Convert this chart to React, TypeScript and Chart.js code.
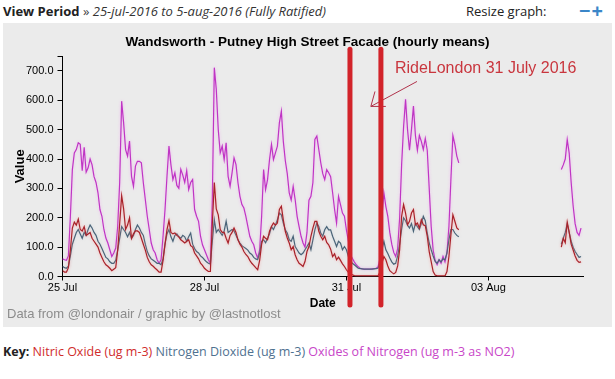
import React, { useEffect, useRef } from 'react';
import { Chart, registerables } from 'chart.js';

Chart.register(...registerables);

// ---- Data (hourly means, hour 0 = 25 Jul 2016 00:00) ----
const TITLE = 'Wandsworth - Putney High Street Facade (hourly means)';
const X_TICK_HOURS = [0, 72, 144, 216];
const X_TICK_LABELS = ['25 Jul', '28 Jul', '31 Jul', '03 Aug'];
const Y_TICK_VALUES = [0, 100, 200, 300, 400, 500, 600, 700, 750];
const X_MAX_HOUR = 264;
const Y_MAX = 750;

// first block of readings: 25 Jul 00:00 -> 2 Aug 09:00
const FIRST_BLOCK_START = 0;
// second block of readings: 4 Aug 13:00 -> 4 Aug 23:00
const SECOND_BLOCK_START = 253;

const NOX_FIRST = [
  60, 57, 55, 70, 205, 364, 421, 432, 455, 450,
  360, 440, 355, 370, 400, 380, 340, 320, 285, 228,
  205, 160, 131, 114, 91, 68, 80, 97, 170, 320,
  597, 523, 432, 410, 461, 341, 307, 376, 392, 392,
  387, 319, 262, 205, 160, 114, 91, 80, 57, 45,
  57, 137, 228, 341, 444, 380, 330, 353, 310, 300,
  365, 345, 320, 360, 296, 320, 330, 228, 205, 188,
  137, 108, 91, 74, 57, 45, 262, 711, 637, 500,
  421, 444, 398, 455, 341, 307, 353, 404, 381, 319,
  273, 245, 233, 205, 171, 137, 120, 108, 80, 63,
  91, 205, 364, 296, 330, 398, 450, 398, 421, 444,
  523, 563, 460, 395, 350, 285, 260, 307, 262, 205,
  170, 137, 114, 100, 150, 260, 273, 319, 467, 478,
  432, 387, 350, 330, 364, 353, 340, 285, 228, 182,
  273, 245, 216, 205, 159, 120, 75, 62, 50, 40,
  33, 28, 26, 25, 25, 25, 25, 26, 27, 28,
  32, 60, 200, 285, 239, 205, 150, 110, 82, 68,
  95, 200, 380, 510, 603, 500, 430, 500, 580, 480,
  430, 480, 460, 432, 470, 430, 300, 170, 90, 55,
  40, 57, 45, 68, 50, 80, 170, 330, 480, 450,
  410, 387,
];
const NOX_SECOND = [364, 380, 400, 466, 420, 320, 240, 180, 150, 140, 165];

const NO2_FIRST = [
  35, 30, 28, 35, 70, 110, 130, 150, 160, 145,
  130, 150, 140, 160, 175, 165, 150, 140, 120, 110,
  95, 80, 65, 60, 50, 45, 45, 55, 90, 130,
  170, 160, 150, 135, 150, 130, 140, 160, 175, 165,
  150, 140, 110, 85, 70, 60, 55, 50, 45, 45,
  40, 60, 110, 145, 160, 135, 120, 140, 145, 135,
  130, 140, 135, 120, 135, 148, 110, 95, 85, 80,
  70, 65, 57, 50, 45, 42, 120, 193, 150, 160,
  150, 140, 155, 188, 150, 155, 160, 155, 140, 125,
  114, 105, 100, 95, 90, 80, 75, 65, 60, 57,
  80, 120, 125, 115, 130, 145, 170, 160, 175, 193,
  216, 210, 182, 159, 148, 125, 120, 137, 102, 91,
  80, 74, 80, 91, 102, 114, 91, 125, 159, 182,
  170, 148, 137, 159, 170, 159, 159, 137, 120, 102,
  120, 114, 91, 102, 91, 68, 57, 45, 40, 34,
  28, 27, 26, 25, 25, 25, 25, 25, 26, 27,
  28, 45, 90, 120, 91, 78, 63, 50, 42, 45,
  70, 110, 160, 200, 190, 175, 165, 180, 154, 180,
  170, 160, 180, 205, 190, 148, 114, 91, 70, 51,
  45, 57, 50, 60, 57, 80, 125, 160, 160, 148,
  140, 135,
];
const NO2_SECOND = [110, 130, 150, 180, 150, 120, 100, 85, 75, 65, 68];

const NO_FIRST = [
  20, 15, 15, 30, 90, 165, 185, 175, 195, 160,
  155, 170, 140, 145, 150, 130, 120, 110, 100, 80,
  65, 50, 40, 35, 28, 20, 25, 30, 90, 180,
  275, 230, 160, 175, 200, 130, 145, 155, 155, 150,
  130, 110, 90, 65, 50, 40, 35, 28, 22, 15,
  15, 55, 110, 160, 190, 150, 145, 148, 140, 135,
  125, 120, 114, 120, 125, 105, 100, 80, 70, 60,
  45, 38, 28, 22, 17, 17, 180, 320, 230, 210,
  160, 150, 150, 130, 114, 140, 150, 165, 150, 125,
  110, 100, 85, 75, 68, 55, 45, 38, 30, 23,
  55, 110, 137, 130, 125, 154, 170, 182, 175, 182,
  228, 239, 193, 154, 131, 114, 91, 102, 74, 57,
  45, 40, 34, 51, 85, 102, 137, 165, 188, 188,
  154, 137, 125, 137, 116, 108, 93, 68, 77, 57,
  66, 55, 43, 34, 23, 14, 9, 6, 3, 2,
  2, 2, 2, 2, 2, 2, 2, 2, 2, 2,
  2, 15, 45, 68, 57, 36, 20, 14, 9, 14,
  36, 91, 205, 245, 216, 176, 188, 216, 228, 176,
  182, 165, 193, 176, 173, 137, 85, 51, 17, 5,
  2, 2, 2, 2, 2, 17, 68, 142, 210, 188,
  165, 159,
];
const NO_SECOND = [100, 130, 115, 185, 150, 110, 90, 70, 55, 48, 50];

// RideLondon annotation (hours since 25 Jul 00:00, values in ug m-3)
const RIDE_MARKER_HOURS = [145.8, 161.5];
const RIDE_LABEL = 'RideLondon 31 July 2016';
const RIDE_LABEL_AT = { hour: 168.6, value: 707 };
const ARROW_TAIL = { hour: 179.8, value: 664 };
const ARROW_TIP = { hour: 156.4, value: 579 };
const ARROW_BARBS = [
  { hour: 158.5, value: 630 },
  { hour: 164.0, value: 579 },
];

const SERIES_COLORS = ['#a8222a', '#4a6478', '#bf35c4'];
const SERIES_GLOW = ['rgba(255,120,120,0.55)', 'rgba(150,170,190,0.35)', 'rgba(245,140,245,0.6)'];

const FONT = '"Liberation Sans", Arial, sans-serif';
const PAGE_FONT = '"Open Sans", "Noto Sans", sans-serif';

function toPoints(first: number[], second: number[]) {
  const pts: { x: number; y: number | null }[] = first.map((v, i) => ({ x: FIRST_BLOCK_START + i, y: v }));
  pts.push({ x: FIRST_BLOCK_START + first.length, y: null });
  second.forEach((v, i) => pts.push({ x: SECOND_BLOCK_START + i, y: v }));
  return pts;
}

const glowPlugin = {
  id: 'lineGlow',
  beforeDatasetDraw(chart: any, args: any) {
    const ctx = chart.ctx;
    ctx.save();
    ctx.shadowColor = SERIES_GLOW[args.index] || 'transparent';
    ctx.shadowBlur = 3;
    ctx.shadowOffsetX = 0;
    ctx.shadowOffsetY = 0;
  },
  afterDatasetDraw(chart: any) {
    chart.ctx.restore();
  },
};

const rideLondonPlugin = {
  id: 'rideLondon',
  afterDraw(chart: any) {
    const { ctx, chartArea, scales } = chart;
    const x = scales.x;
    const y = scales.y;
    const px = (p: { hour: number; value: number }) => [x.getPixelForValue(p.hour), y.getPixelForValue(p.value)];
    ctx.save();
    // arrow
    ctx.strokeStyle = '#b0324a';
    ctx.lineWidth = 1;
    const [tx, ty] = px(ARROW_TIP);
    const [sx, sy] = px(ARROW_TAIL);
    ctx.beginPath();
    ctx.moveTo(sx, sy);
    ctx.lineTo(tx, ty);
    ARROW_BARBS.forEach((b) => {
      const [bx, by] = px(b);
      ctx.moveTo(tx, ty);
      ctx.lineTo(bx, by);
    });
    ctx.stroke();
    // bars
    ctx.strokeStyle = '#d2232a';
    ctx.lineWidth = 5;
    ctx.lineCap = 'round';
    RIDE_MARKER_HOURS.forEach((h) => {
      const bx = x.getPixelForValue(h);
      ctx.beginPath();
      ctx.moveTo(bx, chartArea.top - 7);
      ctx.lineTo(bx, chartArea.bottom + 28.5);
      ctx.stroke();
    });
    // label
    const [lx, ly] = px(RIDE_LABEL_AT);
    ctx.fillStyle = '#c9363e';
    ctx.font = `16px ${FONT}`;
    ctx.textBaseline = 'middle';
    ctx.textAlign = 'left';
    ctx.fillText(RIDE_LABEL, lx, ly);
    ctx.restore();
  },
};

export default function App() {
  const ref = useRef<HTMLCanvasElement>(null);

  useEffect(() => {
    const canvas = ref.current;
    if (!canvas) return;
    const line = (label: string, color: string, data: any[]) => ({
      label,
      data,
      borderColor: color,
      backgroundColor: color,
      borderWidth: 1.2,
      pointRadius: 0,
      tension: 0,
      spanGaps: false,
      yAxisID: 'y',
    });
    const chart = new Chart(canvas, {
      type: 'line',
      data: {
        datasets: [
          line('Nitric Oxide (ug m-3)', SERIES_COLORS[0], toPoints(NO_FIRST, NO_SECOND)),
          line('Nitrogen Dioxide (ug m-3)', SERIES_COLORS[1], toPoints(NO2_FIRST, NO2_SECOND)),
          line('Oxides of Nitrogen (ug m-3 as NO2)', SERIES_COLORS[2], toPoints(NOX_FIRST, NOX_SECOND)),
        ],
      },
      options: {
        responsive: false,
        animation: false,
        devicePixelRatio: 1,
        layout: { padding: { left: 0, right: 0, top: 0, bottom: 10 } },
        plugins: {
          legend: { display: false },
          tooltip: { enabled: false },
          title: {
            display: true,
            text: TITLE,
            color: '#000',
            font: { family: FONT, size: 13.5, weight: 'bold' },
            padding: { top: 11, bottom: 6 },
          },
        },
        scales: {
          x: {
            type: 'linear',
            min: 0,
            max: X_MAX_HOUR,
            afterBuildTicks: (s: any) => {
              s.ticks = X_TICK_HOURS.map((v) => ({ value: v }));
            },
            afterFit: (s: any) => {
              s.height = 38.5;
            },
            ticks: {
              callback: (v: any) => {
                const i = X_TICK_HOURS.indexOf(Number(v));
                return i >= 0 ? X_TICK_LABELS[i] : '';
              },
              color: '#000',
              font: { family: FONT, size: 11 },
              padding: 1,
              maxRotation: 0,
              autoSkip: false,
            },
            grid: { display: true, drawOnChartArea: false, drawTicks: true, tickLength: 4, color: '#000' },
            border: { display: true, color: '#000', width: 1 },
            title: {
              display: true,
              text: 'Date',
              color: '#000',
              font: { family: FONT, size: 12, weight: 'bold' },
              padding: { top: 0, bottom: 4 },
            },
          },
          y: {
            type: 'linear',
            position: 'left',
            min: 0,
            max: Y_MAX,
            afterBuildTicks: (s: any) => {
              s.ticks = Y_TICK_VALUES.map((v) => ({ value: v }));
            },
            afterFit: (s: any) => {
              s.width = 59.5;
            },
            ticks: {
              callback: (v: any) => (Number(v) % 100 === 0 ? Number(v).toFixed(1) : ''),
              color: '#000',
              font: { family: FONT, size: 11 },
              padding: 4,
            },
            grid: { display: true, drawOnChartArea: false, drawTicks: true, tickLength: 5, color: '#000' },
            border: { display: true, color: '#000', width: 1 },
            title: {
              display: true,
              text: 'Value',
              color: '#000',
              font: { family: FONT, size: 13, weight: 'bold' },
              padding: { top: 9.6, bottom: 0 },
            },
          },
          rightSpace: {
            type: 'linear',
            position: 'right',
            display: true,
            min: 0,
            max: Y_MAX,
            afterFit: (s: any) => {
              s.width = 29;
            },
            ticks: { display: false },
            grid: { display: false },
            border: { display: false },
          },
        },
      } as any,
      plugins: [glowPlugin, rideLondonPlugin],
    });
    return () => chart.destroy();
  }, []);

  return (
    <div
      style={{
        position: 'fixed',
        left: 0,
        top: 0,
        width: 615,
        height: 379,
        background: '#ffffff',
        overflow: 'hidden',
        fontFamily: PAGE_FONT,
      }}
    >
      <div style={{ position: 'absolute', left: 3, top: 2, fontSize: 13, color: '#222', whiteSpace: 'nowrap' }}>
        <span style={{ fontWeight: 'bold' }}>View Period</span>
        <span style={{ color: '#444' }}> » </span>
        <span style={{ fontStyle: 'italic', color: '#333' }}>25-jul-2016 to 5-aug-2016 (Fully Ratified)</span>
      </div>
      <div style={{ position: 'absolute', left: 466, top: 2, fontSize: 13, color: '#222', whiteSpace: 'nowrap' }}>
        Resize graph:
      </div>
      <div
        style={{
          position: 'absolute',
          left: 579,
          top: -3,
          fontSize: 20,
          fontWeight: 'bold',
          color: '#3a86c8',
          whiteSpace: 'nowrap',
          letterSpacing: 1,
        }}
      >
        −+
      </div>
      <div style={{ position: 'absolute', left: 3, top: 23, width: 609, height: 304, background: '#ebebeb' }}>
        <canvas ref={ref} width={609} height={302} style={{ display: 'block', width: 609, height: 302 }} />
        <div
          style={{
            position: 'absolute',
            left: 4,
            top: 283,
            fontFamily: FONT,
            fontSize: 13,
            color: '#8c8c8c',
            whiteSpace: 'nowrap',
          }}
        >
          Data from @londonair / graphic by @lastnotlost
        </div>
      </div>
      <div style={{ position: 'absolute', left: 3, top: 343, fontSize: 12.5, whiteSpace: 'nowrap' }}>
        <span style={{ fontWeight: 'bold', color: '#222' }}>Key: </span>
        <span style={{ color: '#d02c2c' }}>Nitric Oxide (ug m-3)</span>{' '}
        <span style={{ color: '#4f7190' }}>Nitrogen Dioxide (ug m-3)</span>{' '}
        <span style={{ color: '#c846c8' }}>Oxides of Nitrogen (ug m-3 as NO2)</span>
      </div>
    </div>
  );
}
